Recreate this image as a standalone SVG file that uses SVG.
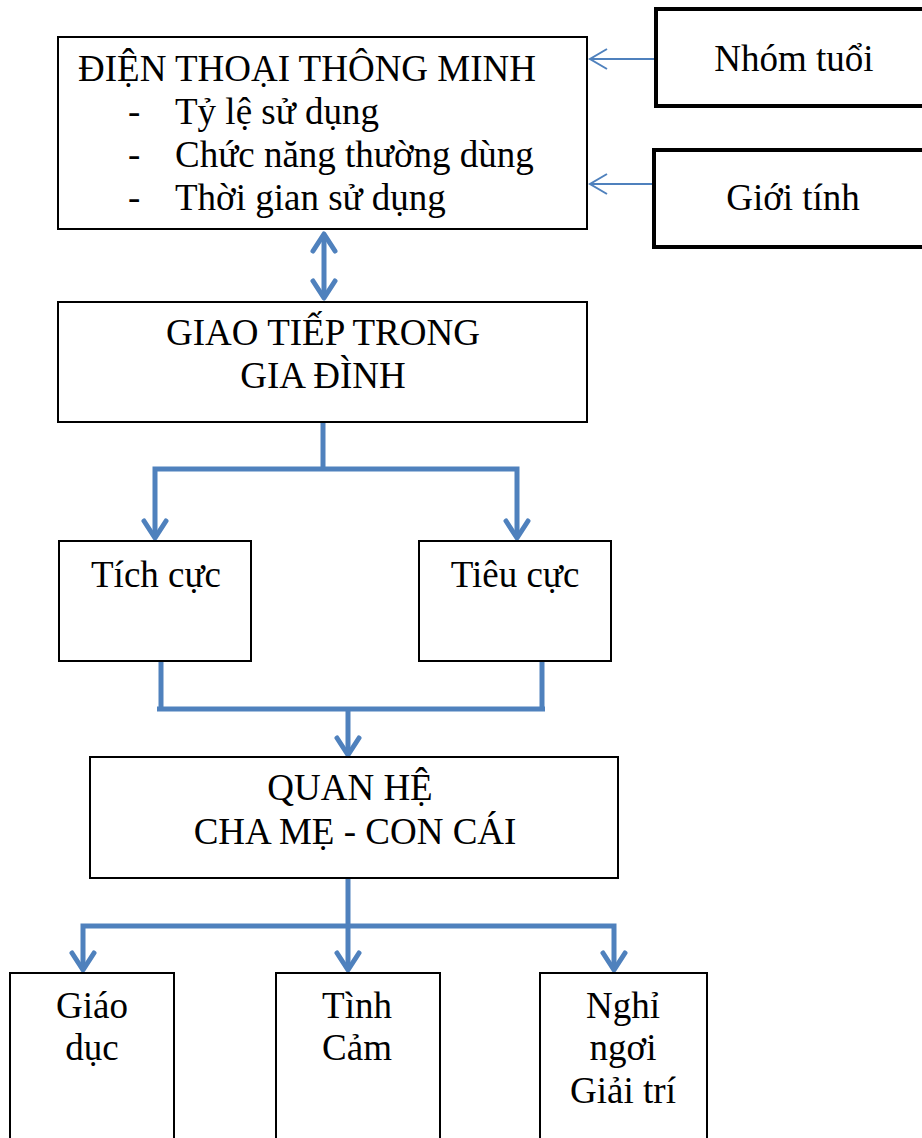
<svg xmlns="http://www.w3.org/2000/svg" width="922" height="1138" viewBox="0 0 922 1138">
<style>
.box{fill:#fff;stroke:#000;stroke-width:2}
.bold{fill:#fff;stroke:#000;stroke-width:4}
.t{font-family:"Liberation Serif","Times New Roman",serif;font-size:37px;fill:#000}
.c{text-anchor:middle}
.con{fill:none;stroke:#4F81BD;stroke-width:5}
.thin{fill:none;stroke:#4F81BD;stroke-width:2}
</style>
<defs>
<marker id="ah" markerUnits="userSpaceOnUse" viewBox="-24 -16 30 32" refX="0" refY="0" markerWidth="30" markerHeight="32" orient="auto-start-reverse">
<path d="M -17,-11 L 0,0 L -17,11" fill="none" stroke="#4F81BD" stroke-width="5" stroke-linecap="round" stroke-linejoin="round"/>
</marker>
<marker id="ahs" markerUnits="userSpaceOnUse" viewBox="-22 -14 26 28" refX="0" refY="0" markerWidth="26" markerHeight="28" orient="auto">
<path d="M -17,-10 L 0,0 L -17,10" fill="none" stroke="#4F81BD" stroke-width="2"/>
</marker>
</defs>

<g id="connectors">
<line class="thin" x1="655" y1="59" x2="590" y2="59" marker-end="url(#ahs)"/>
<line class="thin" x1="653" y1="184" x2="590" y2="184" marker-end="url(#ahs)"/>
<line class="con" x1="324" y1="234" x2="324" y2="298" marker-start="url(#ah)" marker-end="url(#ah)"/>
<polyline class="con" points="323,422 323,469"/>
<polyline class="con" points="155,538 155,469 517,469 517,538" marker-start="url(#ah)" marker-end="url(#ah)"/>
<line class="con" x1="161" y1="662" x2="161" y2="709"/>
<line class="con" x1="542" y1="662" x2="542" y2="709"/>
<line class="con" x1="157" y1="709" x2="545" y2="709"/>
<line class="con" x1="348" y1="709" x2="348" y2="755" marker-end="url(#ah)"/>
<line class="con" x1="348" y1="878" x2="348" y2="970" marker-end="url(#ah)"/>
<polyline class="con" points="83,970 83,926 614,926 614,970" marker-start="url(#ah)" marker-end="url(#ah)"/>
</g>

<g id="node-dienthoai">
<rect class="box" x="58" y="37" width="529" height="192"/>
<text class="t" x="78" y="81">ĐIỆN THOẠI THÔNG MINH</text>
<text class="t" x="128" y="124">-</text>
<text class="t" x="175" y="124">Tỷ lệ sử dụng</text>
<text class="t" x="128" y="167">-</text>
<text class="t" x="175" y="167">Chức năng thường dùng</text>
<text class="t" x="128" y="210">-</text>
<text class="t" x="175" y="210">Thời gian sử dụng</text>
</g>

<g id="node-nhomtuoi">
<rect class="bold" x="656" y="9" width="280" height="97"/>
<text class="t c" x="794" y="71">Nhóm tuổi</text>
</g>

<g id="node-gioitinh">
<rect class="bold" x="654" y="150" width="280" height="97"/>
<text class="t c" x="793" y="210">Giới tính</text>
</g>

<g id="node-giaotiep">
<rect class="box" x="58" y="302" width="529" height="120"/>
<text class="t c" x="323" y="345">GIAO TIẾP TRONG</text>
<text class="t c" x="323" y="388">GIA ĐÌNH</text>
</g>

<g id="node-tichcuc">
<rect class="box" x="59" y="541" width="192" height="120"/>
<text class="t c" x="156" y="587">Tích cực</text>
</g>

<g id="node-tieucuc">
<rect class="box" x="419" y="541" width="192" height="120"/>
<text class="t c" x="515" y="587">Tiêu cực</text>
</g>

<g id="node-quanhe">
<rect class="box" x="90" y="757" width="528" height="121"/>
<text class="t c" x="350" y="800">QUAN HỆ</text>
<text class="t c" x="355" y="844">CHA MẸ - CON CÁI</text>
</g>

<g id="node-giaoduc">
<rect class="box" x="10" y="973" width="164" height="190"/>
<text class="t c" x="92" y="1018">Giáo</text>
<text class="t c" x="92" y="1060">dục</text>
</g>

<g id="node-tinhcam">
<rect class="box" x="276" y="973" width="164" height="190"/>
<text class="t c" x="357" y="1018">Tình</text>
<text class="t c" x="357" y="1060">Cảm</text>
</g>

<g id="node-nghingoi">
<rect class="box" x="540" y="973" width="167" height="190"/>
<text class="t c" x="623" y="1018">Nghỉ</text>
<text class="t c" x="623" y="1060">ngơi</text>
<text class="t c" x="623" y="1103">Giải trí</text>
</g>
</svg>
